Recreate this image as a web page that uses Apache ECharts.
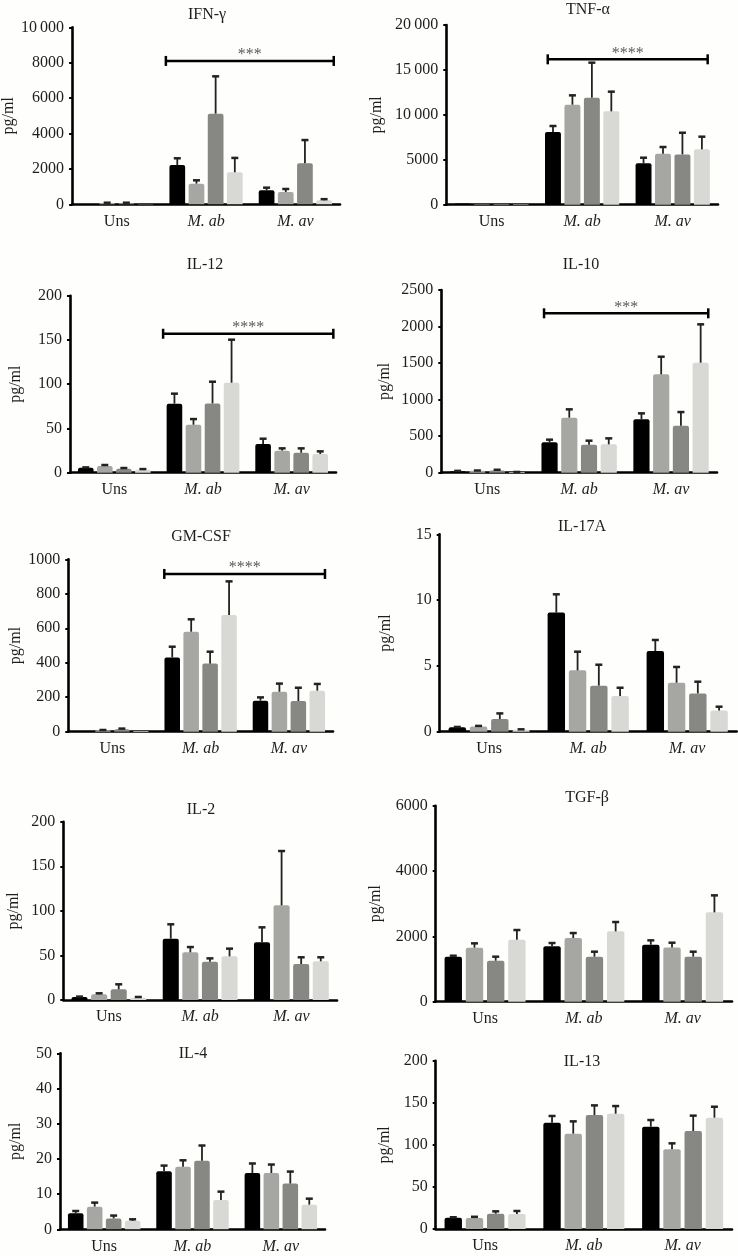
<!DOCTYPE html>
<html><head><meta charset="utf-8">
<script src="https://cdn.jsdelivr.net/npm/echarts@6/dist/echarts.min.js"></script>
<style>html,body{margin:0;padding:0;background:#fefefc}#c{width:738px;height:1256px}</style>
</head><body><div id="c"></div>
<script>
// ---------------- DATA ----------------
const categories = ['Uns', 'M. ab', 'M. av'];
const barColors = ['#000000', '#a6a7a2', '#878883', '#d8d9d5'];

// each array: 4 series (black, mid grey, dark grey, light grey) x 3 categories
const ifnMean = [[20, 2220, 790], [80, 1165, 695], [80, 5120, 2315], [15, 1810, 225]];
const ifnErr  = [[20, 2600, 940], [90, 1355, 865], [90, 7230, 3630], [15, 2620, 290]];
const tnfMean = [[120, 8090, 4600], [60, 11130, 5680], [70, 11910, 5600], [40, 10390, 6160]];
const tnfErr  = [[120, 8760, 5230], [60, 12170, 6420], [70, 15810, 8010], [40, 12580, 7570]];
const il12Mean = [[5.6, 78, 32.4], [7.5, 54.2, 24.9], [4.5, 78.3, 22.6], [3.4, 101.7, 21.1]];
const il12Err  = [[6, 89.3, 38.4], [8.7, 60.6, 27.5], [5.3, 102.8, 27.5], [4.1, 150.3, 24.1]];
const il10Mean = [[20, 415, 730], [25, 753, 1346], [30, 383, 643], [8, 388, 1505]];
const il10Err  = [[25, 452, 812], [30, 867, 1587], [40, 438, 830], [10, 470, 2030]];
const gmcsfMean = [[3, 431, 180], [8, 580, 232], [14, 395, 178], [4, 677, 238]];
const gmcsfErr  = [[3, 493, 199], [10, 652, 279], [18, 464, 255], [4, 872, 277]];
const il17Mean = [[0.33, 9.05, 6.13], [0.40, 4.66, 3.72], [0.96, 3.5, 2.91], [0.15, 2.71, 1.62]];
const il17Err  = [[0.36, 10.44, 6.97], [0.44, 6.08, 4.92], [1.39, 5.09, 3.8], [0.18, 3.34, 1.9]];
const il2Mean = [[3.4, 68.8, 64.7], [6.4, 53.5, 106.2], [12, 43, 40.4], [2.6, 49, 43.4]];
const il2Err  = [[3.8, 84.9, 81.5], [7.5, 59.4, 167.1], [17.6, 46.7, 47.9], [3.4, 57.6, 47.9]];
const tgfMean = [[1378, 1694, 1745], [1653, 1949, 1663], [1255, 1378, 1378], [1898, 2153, 2735]];
const tgfErr  = [[1408, 1796, 1878], [1786, 2102, 1806], [1378, 1531, 1531], [2194, 2439, 3255]];
const il4Mean = [[4.55, 16.5, 16.0], [6.44, 17.8, 16.0], [3.1, 19.5, 13.0], [2.4, 8.3, 7.0]];
const il4Err  = [[5.2, 18.1, 18.7], [7.58, 19.6, 18.4], [3.9, 23.8, 16.4], [2.84, 10.7, 8.7]];
const il13Mean = [[13.5, 126.3, 121.6], [13, 113.3, 94.7], [18.2, 135.4, 116.4], [17.8, 137, 132.3]];
const il13Err  = [[14, 134.3, 129.5], [14.5, 127.9, 101.8], [21, 146.9, 134.7], [21.4, 146.1, 145.3]];

const titles = ['IFN-γ', 'TNF-α', 'IL-12', 'IL-10', 'GM-CSF', 'IL-17A', 'IL-2', 'TGF-β', 'IL-4', 'IL-13'];
const yMax = [10000, 20000, 200, 2500, 1000, 15, 200, 6000, 50, 200];
const yStep = [2000, 5000, 50, 500, 200, 5, 50, 2000, 10, 50];
// significance brackets: [from (category units), to, level]
const sigBrackets = [[1.05, 2.93, 8100], [1.12, 2.886, 16180], [1.05, 2.97, 157], [1.118, 2.905, 2181], [1.088, 2.909, 915], null, null, null, null, null];
const sigLabels = ['***', '****', '****', '***', '****', '', '', '', '', ''];
const yName = 'pg/ml';

const means = [ifnMean, tnfMean, il12Mean, il10Mean, gmcsfMean, il17Mean, il2Mean, tgfMean, il4Mean, il13Mean];
const errs = [ifnErr, tnfErr, il12Err, il10Err, gmcsfErr, il17Err, il2Err, tgfErr, il4Err, il13Err];

// ---------------- LAYOUT ----------------
// [left, top, width, height, nameGap, titleX, titleY]
const layout = [
  [72, 27.3, 268, 177, 49, 207, 15],
  [446.3, 25, 271.7, 179.7, 62, 588, 10],
  [70, 295.7, 266, 177, 46, 205, 265],
  [441.3, 290, 275.7, 182.7, 49, 581, 265],
  [68.3, 559.3, 264.7, 172.4, 45, 201, 537],
  [439.7, 534.3, 297, 197.4, 46, 582, 527],
  [63.3, 821.7, 273.7, 178.3, 42, 201, 810],
  [435.7, 805.7, 296.3, 196, 52, 587, 798],
  [60, 1053.3, 265, 176, 36, 193, 1054],
  [435.7, 1060.7, 296.3, 168.3, 43, 582, 1062]
];

const FONT = 'Liberation Serif';
const BAR_W = 0.176, BAR_GAP = 0.22;
const TXT = '#1e1e1e';

function fmtTick(v) {
  const s = String(v);
  if (v >= 10000) return s.slice(0, s.length - 3) + '\u2009' + s.slice(s.length - 3);
  return s;
}

const grid = [], xAxis = [], yAxis = [], series = [], graphic = [];
layout.forEach((L, p) => {
  grid.push({left: L[0], top: L[1], width: L[2], height: L[3], containLabel: false});
  const catIdx = xAxis.length;
  xAxis.push({
    type: 'category', gridIndex: p, data: categories,
    axisLine: {lineStyle: {color: '#000', width: 2.6}},
    axisTick: {alignWithLabel: true, length: 4, lineStyle: {color: '#000', width: 3}},
    axisLabel: {
      margin: 9, fontFamily: FONT, fontSize: 16, color: TXT,
      formatter: (v, i) => i === 0 ? v : '{i|' + v + '}',
      rich: {i: {fontStyle: 'italic', fontFamily: FONT, fontSize: 16, color: TXT}}
    }
  });
  const valIdx = xAxis.length;
  xAxis.push({type: 'value', gridIndex: p, min: 0, max: 3, show: false});
  yAxis.push({
    type: 'value', gridIndex: p, min: 0, max: yMax[p], interval: yStep[p],
    name: yName, nameLocation: 'middle', nameRotate: 90, nameGap: L[4],
    nameTextStyle: {fontFamily: FONT, fontSize: 16, color: TXT},
    axisLine: {show: true, lineStyle: {color: '#000', width: 2.6}},
    axisTick: {show: true, length: 3, lineStyle: {color: '#000', width: 2}},
    axisLabel: {margin: 8, fontFamily: FONT, fontSize: 16, color: TXT, formatter: fmtTick},
    splitLine: {show: false}
  });
  const M = means[p], E = errs[p];
  for (let s = 0; s < 4; s++) {
    series.push({
      type: 'bar', xAxisIndex: catIdx, yAxisIndex: p, data: M[s],
      barWidth: (BAR_W * 100) + '%', barGap: (BAR_GAP * 100) + '%',
      itemStyle: {color: barColors[s], borderRadius: [2, 2, 0, 0]},
      silent: true, animation: false, z: 2
    });
  }
  const errData = [];
  for (let s = 0; s < 4; s++) for (let c = 0; c < 3; c++) if (E[s][c] > M[s][c]) errData.push([c, M[s][c], E[s][c], s]);
  series.push({
    type: 'custom', xAxisIndex: catIdx, yAxisIndex: p, data: errData, silent: true, animation: false, z: 3,
    encode: {x: 0, y: [1, 2]},
    renderItem: (params, api) => {
      const c = api.value(0), m = api.value(1), t = api.value(2), s = api.value(3);
      const p0 = api.coord([c, m]), p1 = api.coord([c, t]);
      const band = api.size([1, 0])[0];
      const bw = band * BAR_W, gap = bw * BAR_GAP, total = 4 * bw + 3 * gap;
      const x = p0[0] - total / 2 + s * (bw + gap) + bw / 2;
      return {type: 'group', children: [
        {type: 'line', shape: {x1: x, y1: p0[1], x2: x, y2: p1[1]}, style: {stroke: '#222', lineWidth: 1.8}},
        {type: 'line', shape: {x1: x - 3.5, y1: p1[1], x2: x + 3.5, y2: p1[1]}, style: {stroke: '#222', lineWidth: 2.5}}
      ]};
    }
  });
  if (sigBrackets[p]) {
    const b = sigBrackets[p];
    series.push({
      type: 'custom', xAxisIndex: valIdx, yAxisIndex: p, data: [[b[0], b[1], b[2]]], silent: true, animation: false, z: 4,
      encode: {x: [0, 1], y: 2},
      renderItem: (params, api) => {
        const a = api.coord([api.value(0), api.value(2)]);
        const z = api.coord([api.value(1), api.value(2)]);
        return {type: 'group', children: [
          {type: 'line', shape: {x1: a[0], y1: a[1], x2: z[0], y2: z[1]}, style: {stroke: '#000', lineWidth: 2.5}},
          {type: 'line', shape: {x1: a[0], y1: a[1] - 5, x2: a[0], y2: a[1] + 5}, style: {stroke: '#000', lineWidth: 2.5}},
          {type: 'line', shape: {x1: z[0], y1: z[1] - 5, x2: z[0], y2: z[1] + 5}, style: {stroke: '#000', lineWidth: 2.5}},
          {type: 'text', x: (a[0] + z[0]) / 2, y: a[1] + 2,
           style: {text: sigLabels[p], align: 'center', verticalAlign: 'bottom', fill: '#5a5a5a', fontFamily: FONT, fontSize: 16}}
        ]};
      }
    });
  }
  graphic.push({type: 'text', x: L[5], y: L[6], silent: true,
    style: {text: titles[p], align: 'center', verticalAlign: 'middle', fill: TXT, fontFamily: FONT, fontSize: 16}});
});

const chart = echarts.init(document.getElementById('c'), null, {renderer: 'canvas'});
chart.setOption({
  backgroundColor: '#fefefc', animation: false,
  grid, xAxis, yAxis, series, graphic
});
</script>
</body></html>
